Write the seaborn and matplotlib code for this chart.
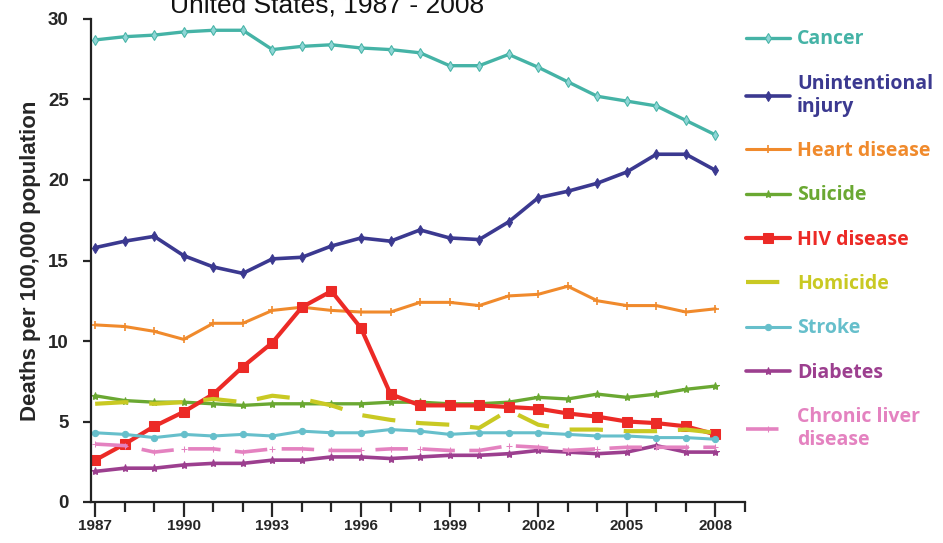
import matplotlib
matplotlib.use("Agg")
import matplotlib.pyplot as plt
import seaborn as sns
import numpy as np
from matplotlib.ticker import MultipleLocator, FixedLocator

years = list(range(1987, 2009))

cancer = [28.7, 28.9, 29.0, 29.2, 29.3, 29.3, 28.1, 28.3, 28.4, 28.2, 28.1,
          27.9, 27.1, 27.1, 27.8, 27.0, 26.1, 25.2, 24.9, 24.6, 23.7, 22.8]
injury = [15.8, 16.2, 16.5, 15.3, 14.6, 14.2, 15.1, 15.2, 15.9, 16.4, 16.2,
          16.9, 16.4, 16.3, 17.4, 18.9, 19.3, 19.8, 20.5, 21.6, 21.6, 20.6]
heart = [11.0, 10.9, 10.6, 10.1, 11.1, 11.1, 11.9, 12.1, 11.9, 11.8, 11.8,
         12.4, 12.4, 12.2, 12.8, 12.9, 13.4, 12.5, 12.2, 12.2, 11.8, 12.0]
suicide = [6.6, 6.3, 6.2, 6.2, 6.1, 6.0, 6.1, 6.1, 6.1, 6.1, 6.2,
           6.2, 6.1, 6.1, 6.2, 6.5, 6.4, 6.7, 6.5, 6.7, 7.0, 7.2]
hiv = [2.6, 3.6, 4.7, 5.6, 6.7, 8.4, 9.9, 12.1, 13.1, 10.8, 6.7,
       6.0, 6.0, 6.0, 5.9, 5.8, 5.5, 5.3, 5.0, 4.9, 4.7, 4.2]
homicide = [6.1, 6.2, 6.1, 6.2, 6.4, 6.2, 6.6, 6.4, 6.0, 5.4, 5.1,
            4.9, 4.8, 4.6, 5.7, 4.8, 4.5, 4.5, 4.4, 4.4, 4.5, 4.3]
stroke = [4.3, 4.2, 4.0, 4.2, 4.1, 4.2, 4.1, 4.4, 4.3, 4.3, 4.5,
          4.4, 4.2, 4.3, 4.3, 4.3, 4.2, 4.1, 4.1, 4.0, 4.0, 3.9]
diabetes = [1.9, 2.1, 2.1, 2.3, 2.4, 2.4, 2.6, 2.6, 2.8, 2.8, 2.7,
            2.8, 2.9, 2.9, 3.0, 3.2, 3.1, 3.0, 3.1, 3.5, 3.1, 3.1]
liver = [3.6, 3.5, 3.1, 3.3, 3.3, 3.1, 3.3, 3.3, 3.2, 3.2, 3.3,
         3.3, 3.2, 3.2, 3.5, 3.4, 3.2, 3.3, 3.4, 3.4, 3.4, 3.4]

labels = ["Cancer", "Unintentional\ninjury", "Heart disease", "Suicide",
          "HIV disease", "Homicide", "Stroke", "Diabetes", "Chronic liver\ndisease"]
series = [cancer, injury, heart, suicide, hiv, homicide, stroke, diabetes, liver]
colors = ["#45b3a6", "#3b3990", "#f08a2c", "#6aa832", "#ec2a26",
          "#c9c923", "#66bfcb", "#9c3f8f", "#e482c0"]
x_tick_labels = ["1987", "1990", "1993", "1996", "1999", "2002", "2005", "2008"]

styles = [
    dict(marker="d", markersize=5, linewidth=2.4, linestyle="-", markerfacecolor="#8fd6d6"),
    dict(marker="d", markersize=5, linewidth=2.6, linestyle="-"),
    dict(marker="+", markersize=6, linewidth=2.2, linestyle="-", markeredgewidth=1.2),
    dict(marker="*", markersize=6, linewidth=2.4, linestyle="-"),
    dict(marker="s", markersize=7, linewidth=3.0, linestyle="-"),
    dict(marker=None, linewidth=3.0, linestyle=(0, (8, 5))),
    dict(marker="o", markersize=4.5, linewidth=2.2, linestyle="-"),
    dict(marker="*", markersize=6, linewidth=2.6, linestyle="-"),
    dict(marker="+", markersize=5, linewidth=2.6, linestyle=(0, (9, 4))),
]

sns.set_style("ticks")
plt.rcParams["font.family"] = ["Liberation Sans", "DejaVu Sans"]

fig = plt.figure(figsize=(9.43, 5.43), dpi=100)
ax = fig.add_axes([91 / 943, 1 - 502 / 543, (745 - 91) / 943, (502 - 19) / 543])

for lab, vals, col, st in zip(labels, series, colors, styles):
    kw = dict(st)
    kw.setdefault("markeredgecolor", col)
    sns.lineplot(x=years, y=vals, ax=ax, color=col, label=lab, **kw)

ax.set_xlim(1986.86, 2009.0)
ax.set_ylim(0, 30)
ax.xaxis.set_major_locator(FixedLocator([int(t) for t in x_tick_labels]))
ax.set_xticklabels(x_tick_labels, fontsize=11, fontweight="bold")
ax.xaxis.set_minor_locator(MultipleLocator(1))
ax.yaxis.set_major_locator(MultipleLocator(5))
for t in ax.get_yticklabels():
    t.set_fontsize(13.5)
    t.set_fontweight("bold")
ax.tick_params(axis="x", which="major", length=10.5, width=1.6, direction="out", pad=2)
ax.tick_params(axis="x", which="minor", length=7, width=1.6, direction="out")
ax.tick_params(axis="y", which="major", length=6, width=1.6, direction="out", pad=10)
for s in ["top", "right"]:
    ax.spines[s].set_visible(False)
for s in ["left", "bottom"]:
    ax.spines[s].set_linewidth(1.6)
    ax.spines[s].set_color("#222222")
ax.set_xlabel("")
ax.set_ylabel("Deaths per 100,000 population", fontsize=16, fontweight="bold", labelpad=5)

fig.text(327 / 943, 1 - 13 / 543, "United States, 1987 - 2008", ha="center",
         va="baseline", fontsize=19, color="#111111")

handles, labs = ax.get_legend_handles_labels()
ax.get_legend().remove()
leg = fig.legend(handles, labs, loc="upper left", bbox_to_anchor=(728 / 943, 1 - 12 / 543),
                 frameon=False, handlelength=2.3, handletextpad=0.35,
                 labelspacing=1.25, labelcolor="linecolor",
                 prop={"family": ["Open Sans", "DejaVu Sans"], "weight": "bold", "size": 14})

fig.savefig("out.png", dpi=100)
